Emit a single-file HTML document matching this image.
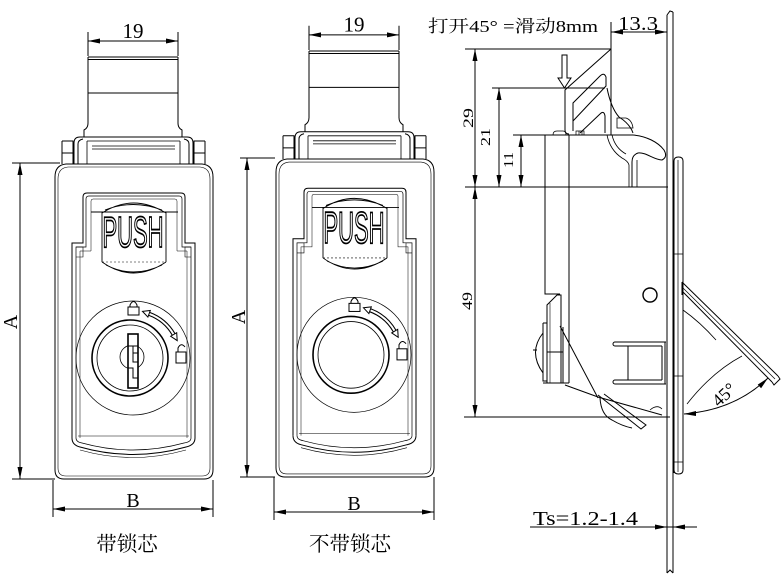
<!DOCTYPE html>
<html><head><meta charset="utf-8"><style>
html,body{margin:0;padding:0;background:#fff;}
svg{display:block;}
</style></head><body>
<svg width="784" height="581" viewBox="0 0 784 581" xmlns="http://www.w3.org/2000/svg">
<rect width="784" height="581" fill="#fff"/>
<defs>
<g id="fb" fill="none" stroke="#000" stroke-width="1">
  <!-- 19 dim -->
  <path d="M88,32V56M178,32V56M88,41H178"/>
  <polygon points="88,41 100,38.5 100,43.5" fill="#000" stroke="none"/>
  <polygon points="178,41 166,38.5 166,43.5" fill="#000" stroke="none"/>
  <!-- neck -->
  <path d="M88,57H178M88,59.5H178M88,93H178M88,57V123Q88,128 84,130V137M178,57V123Q178,128 182,130V137M80,137H187"/>
  <!-- ears / hinge -->
  <path d="M62,141H73V164M62,141V164M62,153H73"/>
  <path d="M205,141H194V164M205,141V164M205,153H194"/>
  <path d="M74,164V143Q74,137 80,137M78,164V144Q78,140 83,139"/>
  <path d="M193,164V143Q193,137 187,137M189,164V144Q189,140 184,139"/>
  <path d="M87,141H180M87,141V164M180,141V164M92,146H175M92,149H175" stroke-width="0.8"/>
  <!-- body -->
  <path d="M55,177Q55,165 66,164L202,164Q213,165 213,177L213,470Q213,479 204,479L64,479Q55,479 55,470Z"/>
  <path d="M58,179Q58,168 68,167L200,167Q210,168 210,179L210,468Q210,476 202,476L66,476Q58,476 58,468Z" stroke-width="0.6"/>
  <!-- flap frame -->
  <path d="M72,438V243H83V197Q83,193 87,193H181Q185,193 185,197V243H195V438"/>
  <path d="M76,438V247H86V199Q86,196 89,196H179Q182,196 182,199V247H191V438" stroke-width="0.7"/>
  <path d="M80,438V251H91V201Q91,199 93,199H175Q177,199 177,201V251H187V438" stroke-width="0.5"/>
  <path d="M76,247H83V257H76M191,247H185V257H191" stroke-width="0.6"/>
  <!-- bottom of frame (curved) -->
  <path d="M72,438Q72,445 80,447Q133,462 186,447Q195,445 195,438"/>
  <path d="M76,438Q76,442 82,443Q133,457 184,443Q191,442 191,438" stroke-width="0.7"/>
  <path d="M80,450Q133,465 186,450" stroke-width="0.6"/>
  <path d="M78,436H189" stroke-width="0.5"/>
  <!-- push box -->
  <path d="M91,212H178M102,212V262M166,212V262" stroke-width="0.9"/>
  <path d="M102,213Q133,193 166,213M105,210Q133,199 162,210" stroke-width="0.9"/>
  <path d="M102,262Q133,284 166,262M106,265Q133,279 162,265" stroke-width="0.9"/>
  <path d="M102,262H166" stroke-width="0.5" stroke-dasharray="2,2"/>
  <!-- lock circles -->
  <circle cx="133" cy="358" r="57" stroke-width="0.7"/>
  <circle cx="130" cy="358" r="38" stroke-width="1.6"/>
  <circle cx="130" cy="358" r="33" stroke-width="0.8"/>
  <!-- padlock icons -->
  <rect x="128" y="307" width="11" height="8"/>
  <path d="M130,307V305Q133.5,298 137,305V307"/>
  <rect x="176" y="352" width="10" height="11"/>
  <path d="M178,352V348Q181,342 185,347" />
  <!-- curved double arrow -->
  <path d="M149.1,313.8A47,47 0 0 1 173.7,334.5" stroke-width="4.2"/>
  <path d="M149.1,313.8A47,47 0 0 1 173.7,334.5" stroke="#fff" stroke-width="2"/>
  <polygon points="142.5,311.4 150.3,310.5 147.9,317.1" fill="#fff"/>
  <polygon points="177.2,340.6 176.7,332.75 170.7,336.25" fill="#fff"/>
</g>
</defs>

<use href="#fb"/>
<use href="#fb" transform="translate(221,-6.55) scale(1,1.0095)"/>

<!-- PUSH text -->
<g transform="translate(133,0) scale(0.5,1)">
  <text x="0" y="247" text-anchor="middle" font-family="Liberation Sans, sans-serif" font-size="44" fill="#fff" stroke="#000" stroke-width="1.8">PUSH</text>
</g>
<g transform="translate(221,-6.55) scale(1,1.0095)">
  <g transform="translate(133,0) scale(0.5,1)">
    <text x="0" y="247" text-anchor="middle" font-family="Liberation Sans, sans-serif" font-size="44" fill="#fff" stroke="#000" stroke-width="1.8">PUSH</text>
  </g>
</g>

<!-- Key (left view only) -->
<g fill="none" stroke="#000">
  <circle cx="132" cy="357" r="12" stroke-width="0.8"/>
  <rect x="128" y="334" width="10" height="54" fill="#fff" stroke-width="1.6"/>
  <path d="M128,346H138M133,346V353H138M133,353V362H138M128,368H133V378H138" stroke-width="1"/>
</g>

<!-- Left view dims -->
<g fill="none" stroke="#000" stroke-width="1">
  <path d="M12,163H60M12,479H55M20,163V479"/>
  <path d="M53,480V517M213,480V517M53,509H213"/>
  <path d="M240,158H275M240,477H275M247,158V477"/>
  <path d="M274,477V520M434,477V520M274,512H434"/>
</g>
<g fill="#000">
  <polygon points="20,163 17.5,175 22.5,175"/>
  <polygon points="20,479 17.5,467 22.5,467"/>
  <polygon points="53,509 65,506.5 65,511.5"/>
  <polygon points="213,509 201,506.5 201,511.5"/>
  <polygon points="247,158 244.5,170 249.5,170"/>
  <polygon points="247,477 244.5,465 249.5,465"/>
  <polygon points="274,512 286,509.5 286,514.5"/>
  <polygon points="434,512 422,509.5 422,514.5"/>
</g>

<!-- Right (side) view -->
<g fill="none" stroke="#000" stroke-width="1">
  <!-- plate -->
  <path d="M667,15V573M673,12V573"/>
  <path d="M667,15L670,11L673,12"/>
  <path d="M667,573L670,570L673,573"/>
  <!-- flange -->
  <path d="M674,473V161Q674,157 678.5,157Q683,157 683,161V470Q683,474 678.5,474Q674,474 674,470Z"/>
  <path d="M678,160V472" stroke-width="0.7"/>
  <path d="M674,254H683M674,376H683M674,462H683" stroke-width="0.8"/>
  <!-- ext / dim lines -->
  <path d="M465,49H611M492,88H605M513,135H633M465,187H668M464,417H670"/>
  <path d="M475,49V417M499,88V187M521,135V187"/>
  <path d="M611,22V135M611,32H667"/>
  <!-- body verticals -->
  <path d="M545,135V294H560"/>
  <path d="M569,135V383"/>
  <!-- top handle -->
  <path d="M611,49L565,90V130Q565,134 569,134"/>
  <path d="M562,55H567V78H571L564.5,88L558,78H562Z" fill="#fff"/>
  <path d="M573,131V103L600,76Q604,72 606,77V86L573,121"/>
  <path d="M580,133L600,114Q604,110 605,116V133"/>
  <path d="M607,88Q611,108 619,117Q630,124 633,133"/>
  <path d="M617,118H626Q632,120 633,128H617Z" stroke-width="0.8"/>
  <path d="M553,135Q553,131 557,131H563Q566,131 566,135" stroke-width="0.8"/>
  <path d="M576,135V131H584V135M579,131V135M582,131V135" stroke-width="0.7"/>
  <!-- lever -->
  <path d="M633,135C646,136 658,142 664,150Q668,157 662,160C654,160 646,152 638,153Q632,155 632,162V187"/>
  <path d="M637,160V187" stroke-width="0.8"/>
  <path d="M607,135Q610,150 622,158Q628,161 629,165V187" stroke-width="0.8"/>
  <path d="M612,135Q615,148 626,154" stroke-width="0.8"/>
  <!-- lower handle -->
  <path d="M547,383V305L557,295H561V383"/>
  <path d="M550,383V303" stroke-width="0.6"/>
  <path d="M547,352H563M563,327V383M543,383H569"/>
  <path d="M543,323H547M543,323V381H547"/>
  <path d="M543,333Q528,352 543,373M533,350H537"/>
  <path d="M560,326L598,398"/>
  <path d="M565,385L598,397L662,415"/>
  <path d="M598,395L641,429L646,425L604,394"/>
  <path d="M600,398Q601,415 612,420Q622,426 632,428"/>
  <path d="M650,410Q657,404 662,409" stroke-width="0.8"/>
  <!-- small circle -->
  <circle cx="650" cy="295" r="7" stroke-width="1.4"/>
  <!-- U bracket -->
  <path d="M615,342H666M615,346H662M615,342A2,2 0 0 0 615,346"/>
  <path d="M615,380H662M615,384H666M615,380A2,2 0 0 0 615,384"/>
  <path d="M628,346V380M662,346V380M665,342V384"/>
  <!-- opened handle -->
  <path d="M682,282V295"/>
  <path d="M682,282L778,376"/>
  <path d="M682,287L775,379" stroke-width="0.7"/>
  <path d="M683,292L772,382"/>
  <path d="M778,376L780,379L774,385L772,382"/>
  <path d="M683,310Q700,322 716,340" stroke-width="0.8"/>
  <path d="M742,356Q712,372 687,404" stroke-width="0.8"/>
  <!-- 45 arc -->
  <path d="M684,414Q735,410 768,378"/>
  <!-- Ts dim -->
  <path d="M530,527H697"/>
</g>
<g fill="#000">
  <polygon points="475,49 472.5,61 477.5,61"/>
  <polygon points="475,187 472.5,175 477.5,175"/>
  <polygon points="475,187 472.5,199 477.5,199"/>
  <polygon points="475,417 472.5,405 477.5,405"/>
  <polygon points="499,88 496.5,100 501.5,100"/>
  <polygon points="499,187 496.5,175 501.5,175"/>
  <polygon points="521,135 518.5,147 523.5,147"/>
  <polygon points="521,187 518.5,175 523.5,175"/>
  <polygon points="611,32 623,29.5 623,34.5"/>
  <polygon points="667,32 655,29.5 655,34.5"/>
  <polygon points="684,414 696,411 696,416"/>
  <polygon points="768,378 761.1,388.2 757.7,384.6"/>
  <polygon points="667,527 655,524.5 655,529.5"/>
  <polygon points="673,527 685,524.5 685,529.5"/>
</g>

<!-- Texts -->
<g font-family="Liberation Serif, serif" fill="#000">
  <text x="133" y="38" text-anchor="middle" font-size="21">19</text>
  <text x="354" y="31.5" text-anchor="middle" font-size="21">19</text>
  <text transform="translate(17,322) rotate(-90)" text-anchor="middle" font-size="20">A</text>
  <text transform="translate(245,317) rotate(-90)" text-anchor="middle" font-size="20">A</text>
  <text x="133" y="507" text-anchor="middle" font-size="20">B</text>
  <text x="354" y="510" text-anchor="middle" font-size="20">B</text>
  <text transform="translate(473,118) rotate(-90)" text-anchor="middle" font-size="15" textLength="20" lengthAdjust="spacingAndGlyphs">29</text>
  <text transform="translate(490,137) rotate(-90)" text-anchor="middle" font-size="14" textLength="18" lengthAdjust="spacingAndGlyphs">21</text>
  <text transform="translate(513,160) rotate(-90)" text-anchor="middle" font-size="14" textLength="16" lengthAdjust="spacingAndGlyphs">11</text>
  <text transform="translate(472,301) rotate(-90)" text-anchor="middle" font-size="15" textLength="18" lengthAdjust="spacingAndGlyphs">49</text>
  <text x="618" y="30" font-size="20" textLength="40" lengthAdjust="spacingAndGlyphs">13.3</text>
  <text x="533" y="525" font-size="20" textLength="105" lengthAdjust="spacingAndGlyphs">Ts=1.2-1.4</text>
  <text transform="translate(728,399) rotate(-43)" text-anchor="middle" font-size="18">45°</text>
</g>
<g font-family="Liberation Serif, 'Noto Serif CJK SC', 'Noto Sans CJK SC', serif" fill="#000">
  <text x="428" y="32" font-size="17" textLength="170" lengthAdjust="spacingAndGlyphs">打开45° =滑动8mm</text>
  <text x="127" y="551" text-anchor="middle" font-size="20.5">带锁芯</text>
  <text x="350" y="551" text-anchor="middle" font-size="20.5">不带锁芯</text>
</g>
</svg>
</body></html>
